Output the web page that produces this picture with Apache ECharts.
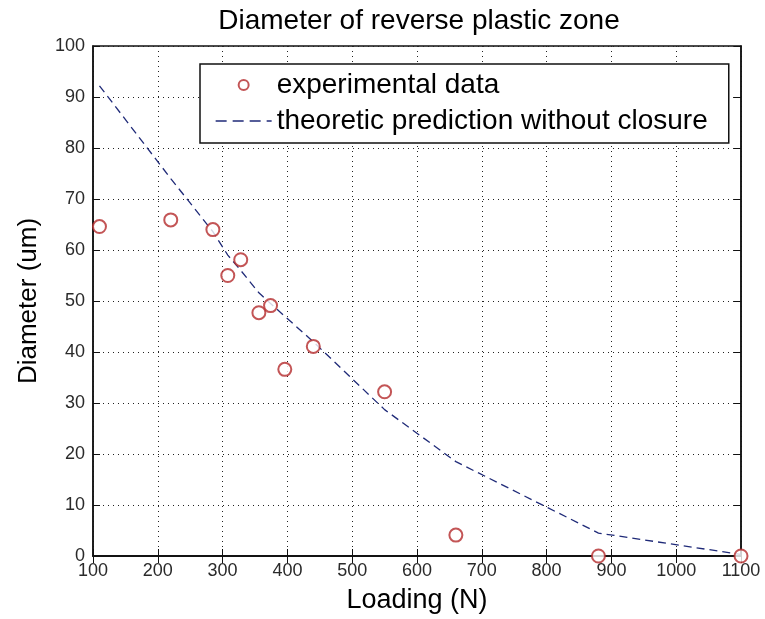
<!DOCTYPE html>
<html>
<head>
<meta charset="utf-8">
<script src="https://cdn.jsdelivr.net/npm/echarts@6/dist/echarts.min.js"></script>
<style>
  html, body { margin: 0; padding: 0; background: #fff; }
  #chart { width: 765px; height: 619px; }
</style>
</head>
<body>
<div id="chart"></div>
<script>
// experimental points: loading (N), diameter (um)
const expLoading = [110, 220, 285, 308, 328, 356, 374, 396, 440, 550, 660, 880, 1100]
const expDiameter = [64.6, 65.9, 64.0, 55.0, 58.1, 47.7, 49.1, 36.6, 41.1, 32.2, 4.1, 0, 0]

// theoretic prediction without closure
const theoLoading = [110, 220, 285, 308, 328, 356, 374, 396, 440, 550, 660, 880, 1100]
const theoDiameter = [92.2, 74.0, 63.6, 59.0, 56.0, 51.6, 49.5, 47.0, 42.0, 28.7, 18.5, 4.5, 0.3]

const xTicks = [100, 200, 300, 400, 500, 600, 700, 800, 900, 1000, 1100]
const yTicks = [0, 10, 20, 30, 40, 50, 60, 70, 80, 90, 100]

const font = "'Liberation Sans', Arial, Helvetica, sans-serif"
const gridLine = { show: true, lineStyle: { color: '#222', type: [1, 4], width: 1 } }
const frame = { show: true, lineStyle: { color: '#111', width: 1.5 } }
const tick = { show: true, inside: true, length: 7, lineStyle: { color: '#111' } }

const chart = echarts.init(document.getElementById('chart'))

chart.setOption({
  animation: false,
  backgroundColor: '#fff',
  title: {
    text: 'Diameter of reverse plastic zone',
    left: 414,
    textAlign: 'center',
    top: 2,
    textStyle: { fontFamily: font, fontSize: 28, fontWeight: 'normal', color: '#000' }
  },
  legend: {
    orient: 'vertical',
    left: 200,
    top: 64,
    padding: [6, 21, 7, 15],
    itemWidth: 56,
    itemHeight: 10,
    itemGap: 6,
    borderColor: '#111',
    borderWidth: 1.5,
    backgroundColor: '#fff',
    selectedMode: false,
    textStyle: { fontFamily: font, fontSize: 28, color: '#000', lineHeight: 30 },
    data: [
      { name: 'experimental data', icon: 'emptyCircle' },
      {
        name: 'theoretic prediction without closure',
        itemStyle: { opacity: 0 },
        lineStyle: { color: '#1f2a78', width: 1.3, type: [11, 6] }
      }
    ]
  },
  grid: { left: 93, right: 24, top: 46, bottom: 62, show: true, borderColor: '#111', borderWidth: 1.5 },
  xAxis: [
    {
      type: 'value',
      min: 100,
      max: 1100,
      interval: 100,
      name: 'Loading (N)',
      nameLocation: 'middle',
      nameGap: 31,
      nameTextStyle: { fontFamily: font, fontSize: 27, color: '#000' },
      axisLine: frame,
      axisTick: tick,
      axisLabel: {
        fontFamily: font, fontSize: 18, color: '#2a2a2a', margin: 6,
        formatter: v => (xTicks.includes(v) ? String(v) : '')
      },
      splitLine: gridLine
    },
    {
      type: 'value',
      position: 'top',
      min: 100,
      max: 1100,
      interval: 100,
      axisLine: frame,
      axisTick: tick,
      axisLabel: { show: false },
      splitLine: { show: false }
    }
  ],
  yAxis: [
    {
      type: 'value',
      min: 0,
      max: 100,
      interval: 10,
      name: 'Diameter (um)',
      nameLocation: 'middle',
      nameGap: 51,
      nameTextStyle: { fontFamily: font, fontSize: 26, color: '#000' },
      axisLine: frame,
      axisTick: tick,
      axisLabel: {
        fontFamily: font, fontSize: 18, color: '#2a2a2a', margin: 8,
        formatter: v => (yTicks.includes(v) ? String(v) : '')
      },
      splitLine: gridLine
    },
    {
      type: 'value',
      position: 'right',
      min: 0,
      max: 100,
      interval: 10,
      axisLine: frame,
      axisTick: tick,
      axisLabel: { show: false },
      splitLine: { show: false }
    }
  ],
  series: [
    {
      name: 'experimental data',
      type: 'scatter',
      clip: false,
      symbol: 'emptyCircle',
      symbolSize: 13,
      z: 3,
      itemStyle: { color: '#b42a2c', borderColor: '#b42a2c', borderWidth: 1 },
      data: expLoading.map((x, i) => [x, expDiameter[i]])
    },
    {
      name: 'theoretic prediction without closure',
      type: 'line',
      symbol: 'none',
      clip: false,
      z: 2,
      lineStyle: { color: '#1f2a78', width: 1.3, type: [8, 5] },
      itemStyle: { color: '#1f2a78' },
      data: theoLoading.map((x, i) => [x, theoDiameter[i]])
    }
  ]
})
</script>
</body>
</html>
